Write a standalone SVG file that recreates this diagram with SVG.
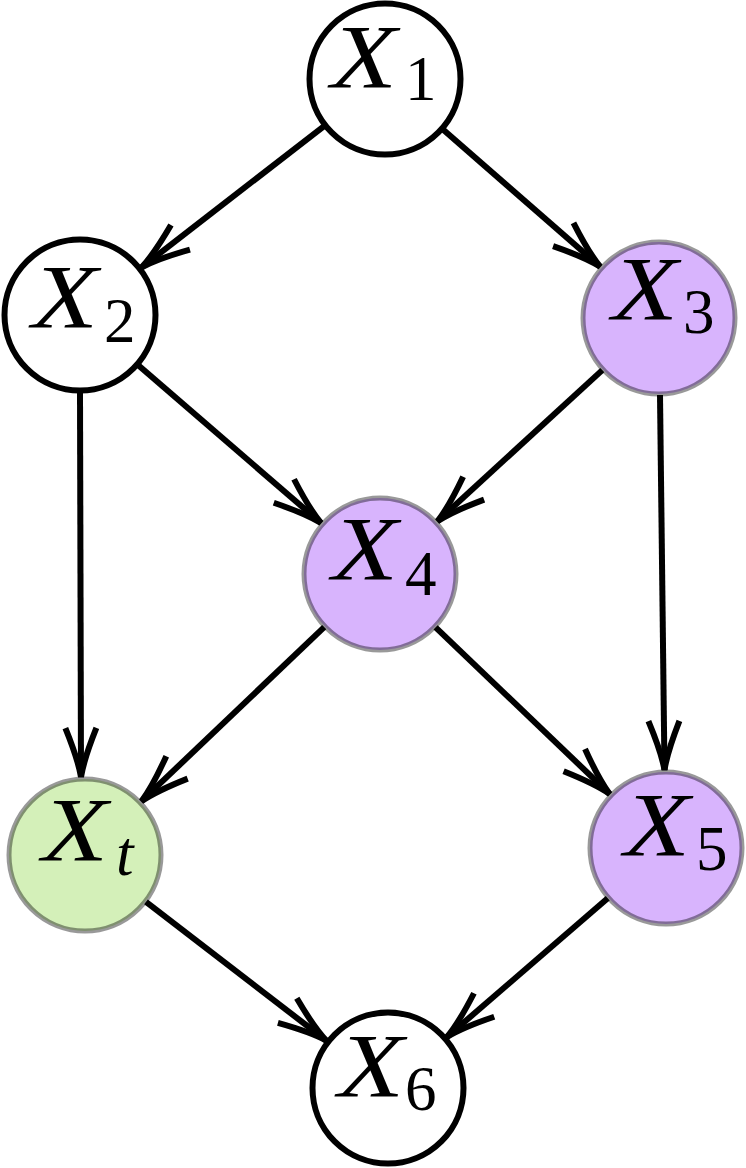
<svg xmlns="http://www.w3.org/2000/svg" width="746" height="1168" viewBox="0 0 746 1168">
<defs>
<style>
.plain{fill:#ffffff;stroke:#000000;stroke-width:6}
.purple{fill:#d8b4fd;stroke:#000000;stroke-opacity:0.4;stroke-width:5}
.green{fill:#d4f0b9;stroke:#000000;stroke-opacity:0.4;stroke-width:5}
.vx{font-family:"Liberation Serif",serif;font-style:italic;font-size:90px;fill:#000}
.sub{font-family:"Liberation Serif",serif;font-size:63px;fill:#000}
.subi{font-family:"Liberation Serif",serif;font-style:italic;font-size:63px;fill:#000}
.edge{fill:none;stroke:#000;stroke-width:6;marker-end:url(#arr)}
</style>
<marker id="arr" markerUnits="userSpaceOnUse" orient="auto" viewBox="-60 -25 70 50" refX="0" refY="0" markerWidth="70" markerHeight="50" overflow="visible">
<path d="M -49,-15.5 Q -18,-3 0,0 Q -18,3 -49,15.5" fill="none" stroke="#000" stroke-width="6"/>
</marker>
</defs>
<g id="connectors">
<line class="edge" x1="324.1" y1="126.1" x2="141.7" y2="267.3"/>
<line class="edge" x1="443" y1="129.6" x2="600.2" y2="266.7"/>
<line class="edge" x1="138.3" y1="365.3" x2="321" y2="523"/>
<line class="edge" x1="80" y1="392" x2="81" y2="777"/>
<line class="edge" x1="602.3" y1="370.1" x2="437.5" y2="521.3"/>
<line class="edge" x1="660" y1="395" x2="664.5" y2="770"/>
<line class="edge" x1="324.2" y1="627.1" x2="141.5" y2="801.2"/>
<line class="edge" x1="435.6" y1="627.3" x2="609.7" y2="794"/>
<line class="edge" x1="146" y1="901.9" x2="326.2" y2="1040.5"/>
<line class="edge" x1="607.7" y1="898.3" x2="447" y2="1037"/>
</g>
<g id="X1">
<circle class="plain" cx="385" cy="79" r="75.5"/>
<text class="vx" x="331" y="88" textLength="66" lengthAdjust="spacingAndGlyphs">X</text>
<text class="sub" x="405" y="100">1</text>
</g>
<g id="X2">
<circle class="plain" cx="80" cy="315" r="75.5"/>
<text class="vx" x="32" y="328" textLength="66" lengthAdjust="spacingAndGlyphs">X</text>
<text class="sub" x="104" y="342">2</text>
</g>
<g id="X3">
<circle class="purple" cx="659" cy="318" r="76"/>
<text class="vx" x="612" y="320" textLength="66" lengthAdjust="spacingAndGlyphs">X</text>
<text class="sub" x="683" y="333">3</text>
</g>
<g id="X4">
<circle class="purple" cx="380" cy="574" r="76"/>
<text class="vx" x="332" y="580" textLength="66" lengthAdjust="spacingAndGlyphs">X</text>
<text class="sub" x="405" y="595">4</text>
</g>
<g id="Xt">
<circle class="green" cx="85" cy="855" r="76"/>
<text class="vx" x="42" y="861" textLength="66" lengthAdjust="spacingAndGlyphs">X</text>
<text class="subi" x="116" y="875">t</text>
</g>
<g id="X5">
<circle class="purple" cx="666" cy="848" r="76"/>
<text class="vx" x="624" y="856" textLength="66" lengthAdjust="spacingAndGlyphs">X</text>
<text class="sub" x="696" y="870">5</text>
</g>
<g id="X6">
<circle class="plain" cx="388" cy="1088" r="75.5"/>
<text class="vx" x="338" y="1097" textLength="66" lengthAdjust="spacingAndGlyphs">X</text>
<text class="sub" x="405" y="1110">6</text>
</g>
</svg>
